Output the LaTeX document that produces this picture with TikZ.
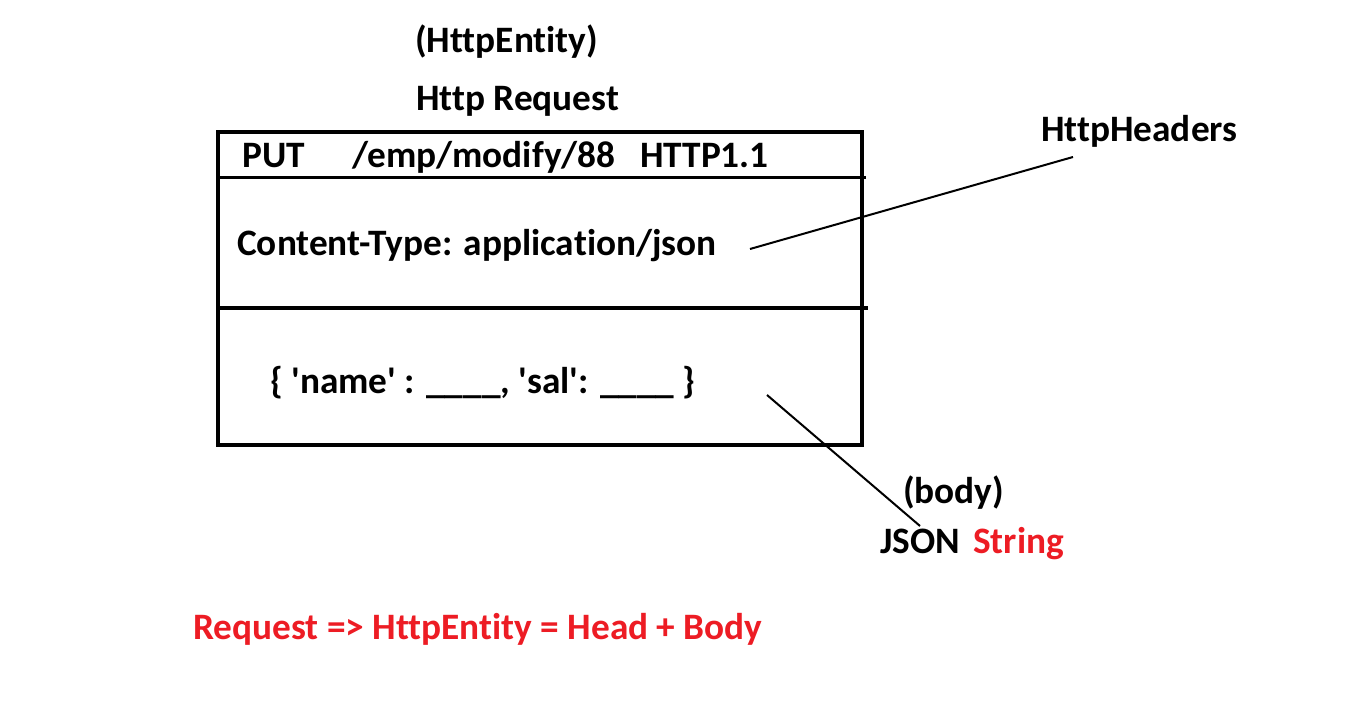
\documentclass[tikz,border=0pt]{standalone}
\usepackage{fontspec}
\setmainfont{Carlito}[Ligatures={NoCommon}]
\definecolor{pred}{HTML}{ED1C24}
\begin{document}
\begin{tikzpicture}[x=1pt,y=-1pt,
  txt/.style={anchor=base west,inner sep=0pt,font=\fontsize{37.3}{44}\selectfont\bfseries},
  redtxt/.style={txt,text=pred},
  boxline/.style={line width=4pt},
  thinbox/.style={line width=3pt},
  leader/.style={line width=2pt}]
\useasboundingbox[fill=white] (0,0) rectangle (1362,708);
% box
\draw[boxline] (218,132) rectangle (862,445);
\draw[thinbox] (218,178) -- (866,178);
\draw[boxline] (218,308) -- (868,308);
% texts
\node[txt] (entity) at (415,53) {(HttpEntity)};
\node[txt] (req) at (416,111) {Http Request};
\node[txt] (put) at (242,168) {PUT};
\node[txt] (uri) at (352,168) {/emp/modify/88};
\node[txt] (ver) at (640,168) {HTTP1.1};
\node[txt] (ct) at (237,256) {Content-Type: application/json};
\node[txt] (body) at (270,393) {\{ \textquotesingle name\textquotesingle{} : \_\_\_\_, \textquotesingle sal\textquotesingle: \_\_\_\_ \}};
\node[txt] (hh) at (1041,142) {HttpHeaders};
\node[txt] (bodylbl) at (903,503) {(body)};
\node[txt] (json) at (880,553) {JSON};
\node[redtxt] (str) at (973,553) {String};
\node[redtxt] (eq) at (193,639) {Request => HttpEntity = Head + Body};
% leaders
\coordinate (hA) at (750,249);
\coordinate (hB) at (1073,157);
\coordinate (bA) at (767,395);
\coordinate (bB) at (920,526);
\draw[leader] (hA) -- (hB);
\draw[leader] (bA) -- (bB);
\end{tikzpicture}
\end{document}
